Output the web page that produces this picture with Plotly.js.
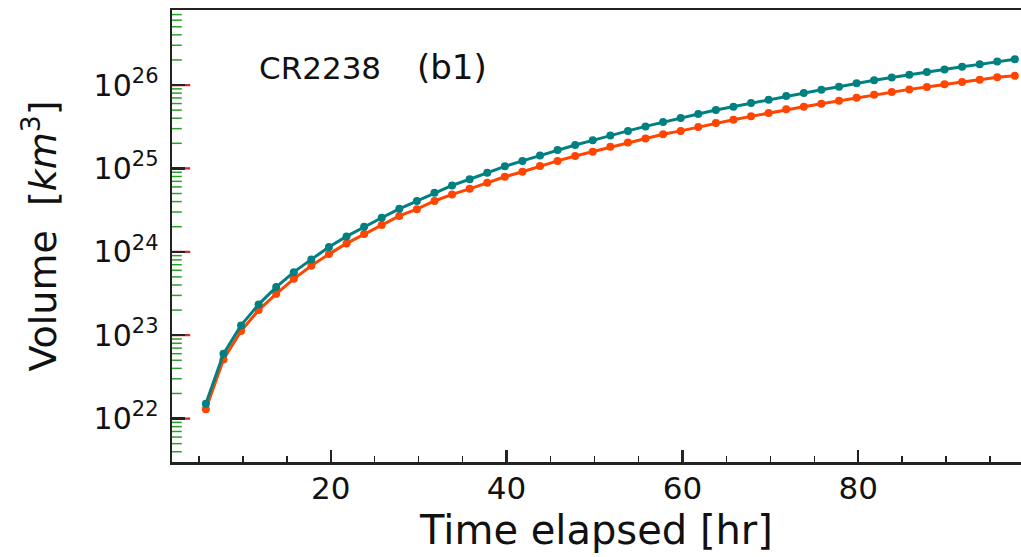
<!DOCTYPE html>
<html>
<head>
<meta charset="utf-8">
<script src="https://cdn.plot.ly/plotly-3.0.1.min.js"></script>
<style>html,body{margin:0;padding:0;background:#fff;}#chart{width:1021px;height:557px;}</style>
</head>
<body>
<div id="chart"></div>
<script>
const timeHr = [5.8,7.8,9.8,11.8,13.8,15.8,17.8,19.8,21.8,23.8,25.8,27.8,29.8,31.8,33.8,35.8,37.8,39.8,41.8,43.8,45.8,47.8,49.8,51.8,53.8,55.8,57.8,59.8,61.8,63.8,65.8,67.8,69.8,71.8,73.8,75.8,77.8,79.8,81.8,83.8,85.8,87.8,89.8,91.8,93.8,95.8,97.8];
const volumeTeal = [1.51e22,5.97e22,1.31e23,2.34e23,3.77e23,5.70e23,8.11e23,1.14e24,1.53e24,2.00e24,2.56e24,3.28e24,4.07e24,5.09e24,6.25e24,7.41e24,8.85e24,1.06e25,1.23e25,1.43e25,1.66e25,1.91e25,2.17e25,2.49e25,2.82e25,3.19e25,3.60e25,4.02e25,4.49e25,5.01e25,5.50e25,6.08e25,6.67e25,7.38e25,8.02e25,8.79e25,9.55e25,1.05e26,1.14e26,1.23e26,1.33e26,1.43e26,1.54e26,1.66e26,1.77e26,1.91e26,2.04e26];
const volumeOrange = [1.29e22,5.11e22,1.12e23,2.00e23,3.13e23,4.74e23,6.79e23,9.38e23,1.26e24,1.64e24,2.09e24,2.69e24,3.24e24,4.07e24,4.88e24,5.69e24,6.71e24,7.94e24,9.12e24,1.07e25,1.23e25,1.41e25,1.59e25,1.82e25,2.04e25,2.29e25,2.57e25,2.82e25,3.13e25,3.50e25,3.83e25,4.21e25,4.61e25,5.11e25,5.50e25,5.97e25,6.49e25,7.05e25,7.66e25,8.24e25,8.87e25,9.46e25,1.02e26,1.09e26,1.16e26,1.24e26,1.29e26];
const xTicks = [20,40,60,80];
const yTicks = [1e22,1e23,1e24,1e25,1e26];
const yTickText = ["10<sup>22</sup>","10<sup>23</sup>","10<sup>24</sup>","10<sup>25</sup>","10<sup>26</sup>"];
const yMinorTicks = [
  4e21,5e21,6e21,7e21,8e21,9e21,
  2e22,3e22,4e22,5e22,6e22,7e22,8e22,9e22,
  2e23,3e23,4e23,5e23,6e23,7e23,8e23,9e23,
  2e24,3e24,4e24,5e24,6e24,7e24,8e24,9e24,
  2e25,3e25,4e25,5e25,6e25,7e25,8e25,9e25,
  2e26,3e26,4e26,5e26,6e26,7e26];
const labelCR = "CR2238";
const labelPanel = "(b1)";

const FONT = "DejaVu Sans, sans-serif";
const AX = "#222222";
const X_RANGE = [1.95, 98.5];
const Y_RANGE = [21.479, 26.9];

const traces = [
  {x: timeHr, y: volumeOrange, type: "scatter", mode: "lines+markers",
   line: {color: "#FF4500", width: 3}, marker: {color: "#FF4500", size: 8}, showlegend: false},
  {x: timeHr, y: volumeTeal, type: "scatter", mode: "lines+markers",
   line: {color: "#008080", width: 3}, marker: {color: "#008080", size: 8}, showlegend: false},
  // tick marks on the log y axis, drawn as half-clipped horizontal dashes at the left edge
  {x: yMinorTicks.map(() => X_RANGE[0]), y: yMinorTicks, type: "scatter", mode: "markers",
   cliponaxis: true, hoverinfo: "skip", showlegend: false,
   marker: {symbol: "line-ew-open", size: 14, line: {color: AX, width: 1.5}}},
  {x: yTicks.map(() => X_RANGE[0]), y: yTicks, type: "scatter", mode: "markers",
   cliponaxis: true, hoverinfo: "skip", showlegend: false,
   marker: {symbol: "line-ew-open", size: 26, line: {color: AX, width: 2.2}}}
];

const layout = {
  width: 1021, height: 557,
  margin: {l: 172, r: 0, t: 10, b: 95, pad: 0},
  paper_bgcolor: "#ffffff", plot_bgcolor: "#ffffff",
  font: {family: FONT, color: "#111111"},
  showlegend: false,
  xaxis: {
    range: X_RANGE, tickmode: "array", tickvals: xTicks,
    ticks: "inside", ticklen: 12, tickwidth: 2.2, tickcolor: AX,
    showline: true, linecolor: AX, linewidth: 2.5, mirror: true,
    showgrid: false, zeroline: false,
    tickfont: {family: FONT, size: 31, color: "#111"},
    ticklabelstandoff: -3,
    minor: {dtick: 5, ticks: "inside", ticklen: 6, tickwidth: 1.6, tickcolor: AX, showgrid: false},
    title: {text: "Time elapsed [hr]", font: {family: FONT, size: 40, color: "#111"}, standoff: 12}
  },
  yaxis: {
    type: "log", range: Y_RANGE,
    tickmode: "array", tickvals: yTicks, ticktext: yTickText,
    ticks: "inside", ticklen: 13, tickwidth: 2.4, tickcolor: AX,
    showline: true, linecolor: AX, linewidth: 2.5, mirror: false,
    showgrid: false, zeroline: false,
    tickfont: {family: FONT, size: 30, color: "#111"},
    ticklabelstandoff: 5,
    title: {text: "Volume  [<i>km</i><sup>3</sup>]", font: {family: FONT, size: 38, color: "#111"}, standoff: 26}
  },
  annotations: [
    {xref: "paper", yref: "paper", x: 0.100, y: 0.872, xanchor: "left", yanchor: "middle",
     text: labelCR, showarrow: false, font: {family: FONT, size: 31, color: "#111"}},
    {xref: "paper", yref: "paper", x: 0.330, y: 0.874, xanchor: "center", yanchor: "middle",
     text: labelPanel, showarrow: false, font: {family: FONT, size: 34, color: "#111"}}
  ]
};

Plotly.newPlot("chart", traces, layout, {displayModeBar: false, staticPlot: true});
</script>
</body>
</html>
